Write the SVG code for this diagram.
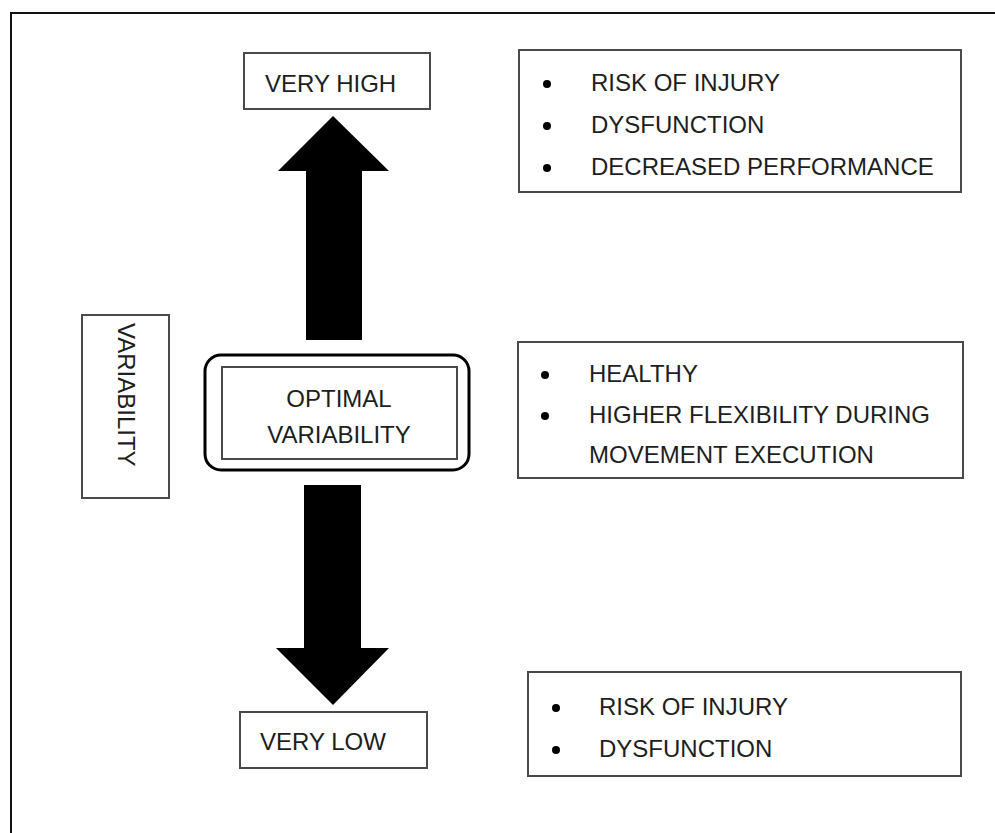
<svg xmlns="http://www.w3.org/2000/svg" width="995" height="833" viewBox="0 0 995 833">
<style>
  .box { fill: #fff; stroke: #4a4a4a; stroke-width: 2; }
  .t { font-family: "Liberation Sans", Arial, sans-serif; font-size: 24px; fill: #1e1e1e; }
  .c { text-anchor: middle; }
  .dot { fill: #000; }
  .arrow { fill: #000; }
</style>
<rect width="995" height="833" fill="#fff"/>
<g id="frame">
  <path d="M11 833 V13 H995" fill="none" stroke="#111" stroke-width="2"/>
</g>
<g id="connectors">
  <polygon class="arrow" points="333,116 389,171 362,171 362,340 306,340 306,171 278,171"/>
  <polygon class="arrow" points="304,485 361,485 361,648 389,648 333,705 276,648 304,648"/>
</g>
<g id="very-high">
  <rect class="box" x="244" y="53" width="186" height="56"/>
  <text class="t" x="265" y="92">VERY HIGH</text>
</g>
<g id="very-low">
  <rect class="box" x="240" y="712" width="187" height="56"/>
  <text class="t" x="260" y="750">VERY LOW</text>
</g>
<g id="variability">
  <rect class="box" x="82" y="315" width="87" height="183"/>
  <text class="t" transform="translate(118,323) rotate(90)">VARIABILITY</text>
</g>
<g id="optimal">
  <rect x="205" y="355" width="264" height="115" rx="16" fill="#fff" stroke="#000" stroke-width="3"/>
  <rect x="222" y="367" width="235" height="92" fill="none" stroke="#4a4a4a" stroke-width="2"/>
  <text class="t c" x="339" y="407">OPTIMAL</text>
  <text class="t c" x="339" y="443">VARIABILITY</text>
</g>
<g id="high-effects">
  <rect class="box" x="519" y="50" width="442" height="142"/>
  <circle class="dot" cx="547" cy="84" r="4"/>
  <circle class="dot" cx="547" cy="126" r="4"/>
  <circle class="dot" cx="547" cy="168" r="4"/>
  <text class="t" x="591" y="91">RISK OF INJURY</text>
  <text class="t" x="591" y="133">DYSFUNCTION</text>
  <text class="t" x="591" y="175">DECREASED PERFORMANCE</text>
</g>
<g id="optimal-effects">
  <rect class="box" x="518" y="342" width="445" height="136"/>
  <circle class="dot" cx="545" cy="375" r="4"/>
  <circle class="dot" cx="545" cy="416" r="4"/>
  <text class="t" x="589" y="382">HEALTHY</text>
  <text class="t" x="589" y="423">HIGHER FLEXIBILITY DURING</text>
  <text class="t" x="589" y="463">MOVEMENT EXECUTION</text>
</g>
<g id="low-effects">
  <rect class="box" x="528" y="672" width="433" height="104"/>
  <circle class="dot" cx="556" cy="708" r="4"/>
  <circle class="dot" cx="556" cy="750" r="4"/>
  <text class="t" x="599" y="715">RISK OF INJURY</text>
  <text class="t" x="599" y="757">DYSFUNCTION</text>
</g>
</svg>
